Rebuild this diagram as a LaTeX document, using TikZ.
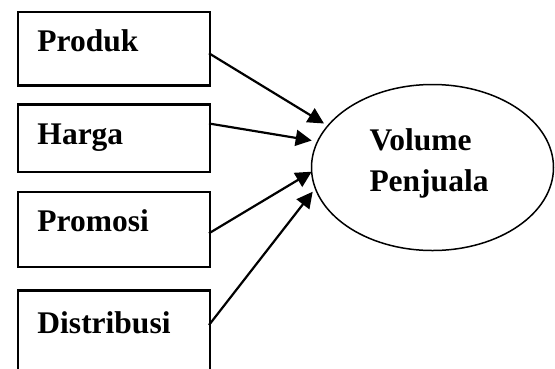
\documentclass[tikz,border=0pt]{standalone}
\usepackage{fontspec}
\setmainfont{Liberation Serif}
\usetikzlibrary{arrows.meta,shapes.geometric}
\begin{document}
\begin{tikzpicture}[x=1pt,y=-1pt,
  boxnode/.style={draw,line width=2.2pt,rectangle,minimum width=192.4pt,anchor=north west,inner sep=0pt},
  lbl/.style={anchor=base west,inner sep=0pt,font=\fontsize{31.5}{37}\selectfont\bfseries},
  arr/.style={line width=2.2pt,-{Triangle[length=16pt,width=16pt]}}]
\useasboundingbox (0,0) rectangle (555,368);
\clip (0,0) rectangle (555,368);
\node[boxnode,minimum height=73.3pt] (p) at (16.6,11) {};
\node[boxnode,minimum height=67.7pt] (h) at (16.6,103.3) {};
\node[boxnode,minimum height=75.3pt] (r) at (16.6,190.7) {};
\node[boxnode,minimum height=120pt] (d) at (16.6,289.3) {};
\node[lbl] (pt) at (37.3,51.7) {Produk};
\node[lbl] (ht) at (37.3,144) {Harga};
\node[lbl] (rt) at (37.3,231.7) {Promosi};
\node[lbl] (dt) at (37.3,333.3) {Distribusi};
\node[draw,line width=1.5pt,ellipse,minimum width=242pt,minimum height=166pt,inner sep=0pt] (v) at (432.5,167.5) {};
\node[lbl] (v1) at (369.3,150) {Volume};
\node[lbl] (v2) at (369.3,191) {Penjuala};
\coordinate (s1) at (209,53.3);
\coordinate (s2) at (209,123.5);
\coordinate (s3) at (209,233.3);
\coordinate (s4) at (209,325);
\coordinate (t1) at (324,123.5);
\coordinate (t2) at (311.7,140.5);
\coordinate (t3) at (311.7,171.7);
\coordinate (t4) at (312.7,191.7);
\draw[arr] (s1) -- (t1);
\draw[arr] (s2) -- (t2);
\draw[arr] (s3) -- (t3);
\draw[arr] (s4) -- (t4);
\end{tikzpicture}
\end{document}
